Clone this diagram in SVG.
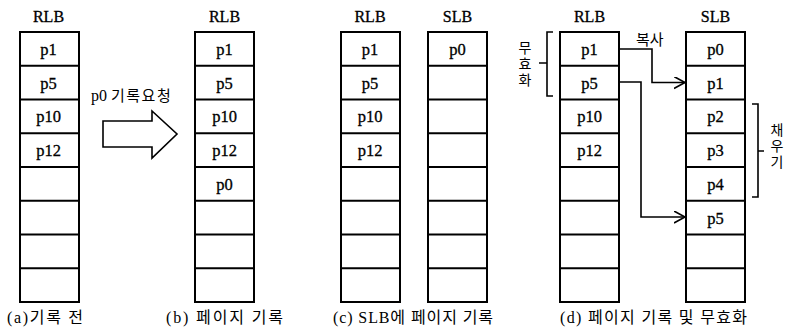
<svg xmlns="http://www.w3.org/2000/svg" xmlns:xlink="http://www.w3.org/1999/xlink" width="787" height="330" viewBox="0 0 787 330">
  <style>
    .box { fill: #fff; stroke: #000; stroke-width: 2; }
    .row { stroke: #000; stroke-width: 2; }
    .cell { font-family: "Liberation Serif", "Noto Sans CJK KR", serif; font-size: 16.5px; text-anchor: middle; fill: #000; stroke: #000; stroke-width: 0.3; }
    .head { font-family: "Liberation Serif", "Noto Sans CJK KR", serif; font-size: 16px; text-anchor: middle; fill: #000; stroke: #000; stroke-width: 0.3; }
    .cap { font-family: "Liberation Serif", "Noto Sans CJK KR", serif; font-size: 16px; fill: #000; }
    .note { font-family: "Liberation Serif", "Noto Sans CJK KR", serif; font-size: 15px; fill: #000; }
    .vnote { font-family: "Noto Sans CJK KR", sans-serif; font-size: 14px; writing-mode: vertical-rl; letter-spacing: 2px; fill: #000; }
    .wire { fill: none; stroke: #000; stroke-width: 1.6; }
    .brace { fill: none; stroke: #000; stroke-width: 1.6; }
  </style>
  <defs>
    <!-- an 8-slot buffer column, 59 wide, 270 tall -->
    <g id="column">
      <rect class="box" x="0" y="0" width="59" height="270"/>
      <line class="row" x1="0" y1="33.75" x2="59" y2="33.75"/>
      <line class="row" x1="0" y1="67.5" x2="59" y2="67.5"/>
      <line class="row" x1="0" y1="101.25" x2="59" y2="101.25"/>
      <line class="row" x1="0" y1="135" x2="59" y2="135"/>
      <line class="row" x1="0" y1="168.75" x2="59" y2="168.75"/>
      <line class="row" x1="0" y1="202.5" x2="59" y2="202.5"/>
      <line class="row" x1="0" y1="236.25" x2="59" y2="236.25"/>
    </g>
    <marker id="chev" markerWidth="14" markerHeight="14" refX="11" refY="6" orient="auto" markerUnits="userSpaceOnUse">
      <path d="M0,0 L11,6 L0,12" fill="none" stroke="#000" stroke-width="1.6"/>
    </marker>
  </defs>

  <!-- (a) before write -->
  <g id="a-rlb">
    <text class="head" x="48.5" y="22">RLB</text>
    <use xlink:href="#column" x="20" y="32"/>
    <text class="cell" x="48.5" y="55">p1</text>
    <text class="cell" x="48.5" y="88.6">p5</text>
    <text class="cell" x="48.5" y="122.4">p10</text>
    <text class="cell" x="48.5" y="156.1">p12</text>
  </g>
  <g id="a-caption">
    <text class="cap" x="7" y="323" textLength="76" lengthAdjust="spacing">(a)기록 전</text>
  </g>

  <!-- write request -->
  <g id="request">
    <text class="note" x="91" y="101"><tspan font-size="16">p0</tspan><tspan x="111" letter-spacing="1.5">기록요청</tspan></text>
    <polygon points="103,121 152,121 152,111 177,134 152,158 152,147 103,147" fill="#fff" stroke="#000" stroke-width="1.6"/>
  </g>

  <!-- (b) page write -->
  <g id="b-rlb">
    <text class="head" x="224.5" y="22">RLB</text>
    <use xlink:href="#column" x="195" y="32"/>
    <text class="cell" x="224.5" y="55">p1</text>
    <text class="cell" x="224.5" y="88.6">p5</text>
    <text class="cell" x="224.5" y="122.4">p10</text>
    <text class="cell" x="224.5" y="156.1">p12</text>
    <text class="cell" x="224.5" y="189.9">p0</text>
  </g>
  <g id="b-caption">
    <text class="cap" x="166" y="323" textLength="117" lengthAdjust="spacing">(b) 페이지 기록</text>
  </g>

  <!-- (c) page write to SLB -->
  <g id="c-rlb">
    <text class="head" x="370" y="22">RLB</text>
    <use xlink:href="#column" x="341" y="32"/>
    <text class="cell" x="370" y="55">p1</text>
    <text class="cell" x="370" y="88.6">p5</text>
    <text class="cell" x="370" y="122.4">p10</text>
    <text class="cell" x="370" y="156.1">p12</text>
  </g>
  <g id="c-slb">
    <text class="head" x="457.5" y="22">SLB</text>
    <use xlink:href="#column" x="428" y="32"/>
    <text class="cell" x="457.5" y="55">p0</text>
  </g>
  <g id="c-caption">
    <text class="cap" x="333" y="323" textLength="160" lengthAdjust="spacing">(c) SLB에 페이지 기록</text>
  </g>

  <!-- (d) page write and invalidation -->
  <g id="d-rlb">
    <text class="head" x="589.5" y="22">RLB</text>
    <use xlink:href="#column" x="560" y="32"/>
    <text class="cell" x="589.5" y="55">p1</text>
    <text class="cell" x="589.5" y="88.6">p5</text>
    <text class="cell" x="589.5" y="122.4">p10</text>
    <text class="cell" x="589.5" y="156.1">p12</text>
  </g>
  <g id="d-slb">
    <text class="head" x="715.5" y="22">SLB</text>
    <use xlink:href="#column" x="686" y="32"/>
    <text class="cell" x="715.5" y="55">p0</text>
    <text class="cell" x="715.5" y="88.6">p1</text>
    <text class="cell" x="715.5" y="122.4">p2</text>
    <text class="cell" x="715.5" y="156.1">p3</text>
    <text class="cell" x="715.5" y="189.9">p4</text>
    <text class="cell" x="715.5" y="223.6">p5</text>
  </g>
  <g id="invalidate">
    <path class="brace" d="M553,32 L547,32 L547,96 L553,96 M547,63 L539,63"/>
    <text class="vnote" x="525" y="41">무효화</text>
  </g>
  <g id="fill">
    <path class="brace" d="M752,104 L758,104 L758,197 L752,197 M758,151 L764,151"/>
    <text class="vnote" x="777" y="123">채우기</text>
  </g>
  <g id="d-caption">
    <text class="cap" x="560" y="323" textLength="187" lengthAdjust="spacing">(d) 페이지 기록 및 무효화</text>
  </g>

  <!-- copy connectors RLB -> SLB -->
  <g id="connectors">
    <text class="note" x="636" y="45">복사</text>
    <path class="wire" d="M619,49 L652,49 L652,82.5 L685,82.5" marker-end="url(#chev)"/>
    <path class="wire" d="M619,82 L641,82 L641,217 L685,217" marker-end="url(#chev)"/>
  </g>
</svg>
